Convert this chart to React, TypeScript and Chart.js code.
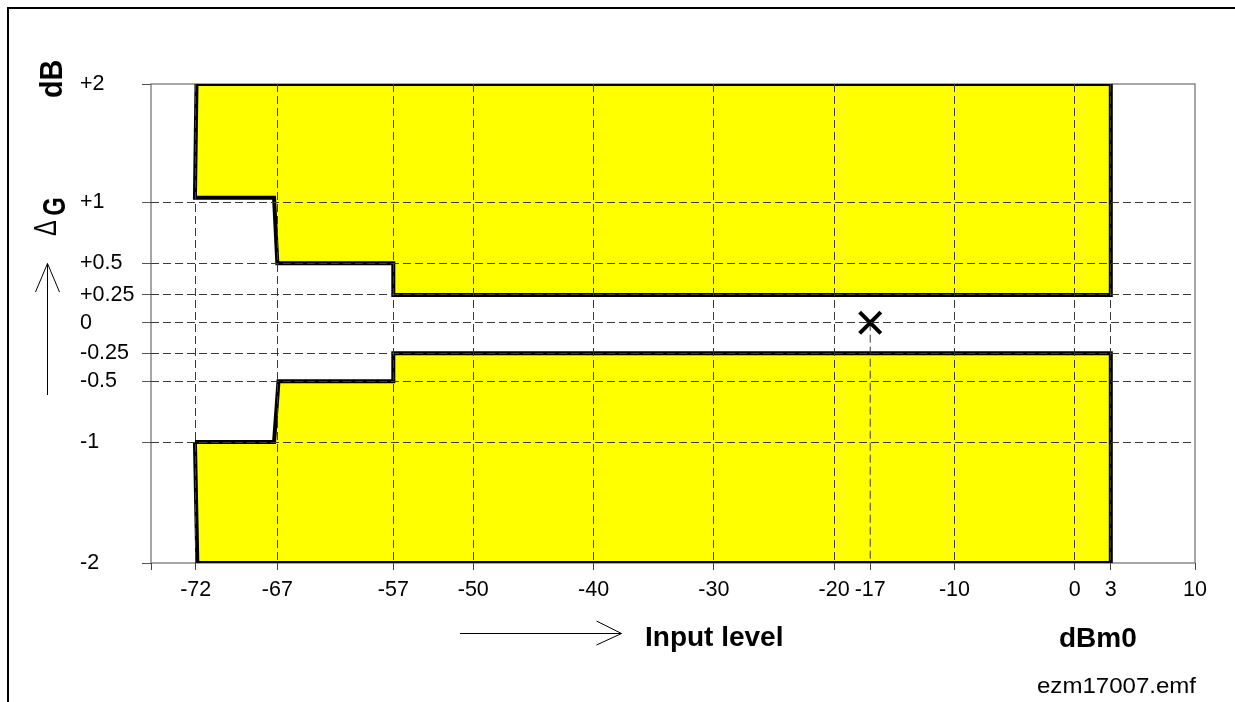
import React, { useEffect, useRef } from 'react';
import { Chart, registerables, LinearScale } from 'chart.js';

Chart.register(...registerables);

// ---------------- data ----------------
const levelTicks = [-75, -72, -67, -57, -50, -40, -30, -20, -17, -10, 0, 3, 10];
const levelTickLabels = ['', '-72', '-67', '-57', '-50', '-40', '-30', '-20', '-17', '-10', '0', '3', '10'];
const gainTicks = [-2, -1, -0.5, -0.25, 0, 0.25, 0.5, 1, 2];
const gainTickLabels = ['-2', '-1', '-0.5', '-0.25', '0', '+0.25', '+0.5', '+1', '+2'];

// tolerance mask (input level in dBm0, gain deviation in dB)
const upperMaskLevel = [-71.95, 3, 3, -57, -57, -67.0, -67.2, -72.05, -71.95];
const upperMaskGain = [2, 2, 0.25, 0.25, 0.5, 0.5, 1.04, 1.04, 2];
const lowerMaskLevel = [-72.05, -67.2, -66.9, -57, -57, 3, 3, -71.9, -72.05];
const lowerMaskGain = [-1, -1, -0.5, -0.5, -0.25, -0.25, -2, -2, -1];

// reference test point
const testPointLevel = [-17];
const testPointGain = [0];

// axis layout (non-uniform drawing scale of the original figure)
const levelAxisKnots = [-75, -72, -67, -57, -50, 10];
const levelAxisKnotPos = [0, 0.0428, 0.121, 0.2321, 0.3087, 1];
const gainAxisKnots = [-2, -1, -0.5, -0.25, 0, 0.25, 0.5, 1, 2];
const gainAxisKnotPos = [0, 0.2526, 0.3793, 0.4378, 0.5017, 0.5595, 0.6257, 0.7526, 1];

const FAMILY = '"Liberation Sans", Arial, Helvetica, sans-serif';

function interp(v: number, xs: number[], ys: number[]) {
  const n = xs.length;
  if (v <= xs[0]) return ys[0] + ((v - xs[0]) * (ys[1] - ys[0])) / (xs[1] - xs[0]);
  for (let i = 1; i < n; i++) {
    if (v <= xs[i]) return ys[i - 1] + ((v - xs[i - 1]) * (ys[i] - ys[i - 1])) / (xs[i] - xs[i - 1]);
  }
  return ys[n - 1] + ((v - xs[n - 1]) * (ys[n - 1] - ys[n - 2])) / (xs[n - 1] - xs[n - 2]);
}

function makeKnotScale(scaleId: string, knots: number[], pos: number[]) {
  class KnotScale extends LinearScale {
    static id = scaleId;
    static defaults = {};
    getPixelForValue(value: number) {
      return this.getPixelForDecimal(interp(value, knots, pos));
    }
    getValueForPixel(pixel: number) {
      return interp(this.getDecimalForPixel(pixel), pos, knots);
    }
  }
  return KnotScale;
}

Chart.register(
  makeKnotScale('levelScale', levelAxisKnots, levelAxisKnotPos) as any,
  makeKnotScale('gainScale', gainAxisKnots, gainAxisKnotPos) as any
);

function drawFitted(
  ctx: CanvasRenderingContext2D,
  text: string,
  font: string,
  l: number,
  t: number,
  r: number,
  b: number,
  rotated: boolean
) {
  ctx.save();
  ctx.font = font;
  ctx.textAlign = 'left';
  ctx.textBaseline = 'alphabetic';
  const m = ctx.measureText(text);
  const inkW = m.actualBoundingBoxLeft + m.actualBoundingBoxRight;
  const inkH = m.actualBoundingBoxAscent + m.actualBoundingBoxDescent;
  if (!rotated) {
    ctx.translate(l, b);
    ctx.scale((r - l) / inkW, (b - t) / inkH);
  } else {
    ctx.translate(r, b);
    ctx.rotate(-Math.PI / 2);
    ctx.scale((b - t) / inkW, (r - l) / inkH);
  }
  ctx.fillText(text, m.actualBoundingBoxLeft, -m.actualBoundingBoxDescent);
  ctx.restore();
}

const figurePlugin = {
  id: 'figureDecorations',
  beforeDatasetsDraw(chart: any) {
    // plot frame (grey box around the chart area)
    const { ctx, chartArea: a } = chart;
    ctx.save();
    ctx.setLineDash([]);
    ctx.strokeStyle = '#777';
    ctx.lineWidth = 1.3;
    ctx.strokeRect(a.left, a.top, a.right - a.left, a.bottom - a.top);
    ctx.restore();
  },
  afterDraw(chart: any) {
    const { ctx } = chart;
    ctx.save();
    ctx.setLineDash([]);
    ctx.strokeStyle = '#000';
    // arrows
    ctx.lineWidth = 1;
    ctx.beginPath();
    ctx.moveTo(460, 633.5);
    ctx.lineTo(621.5, 633.5);
    ctx.moveTo(596.5, 621);
    ctx.lineTo(621.5, 633.5);
    ctx.lineTo(596.5, 645);
    ctx.moveTo(47.5, 395);
    ctx.lineTo(47.5, 263.5);
    ctx.moveTo(35.5, 292);
    ctx.lineTo(47.5, 263.5);
    ctx.lineTo(59.5, 292);
    ctx.stroke();

    // texts
    ctx.fillStyle = '#000';
    ctx.textAlign = 'left';
    ctx.textBaseline = 'alphabetic';
    ctx.font = `bold 28px ${FAMILY}`;
    ctx.fillText('Input level', 645, 646);
    ctx.fillText('dBm0', 1059, 646.5);
    drawFitted(ctx, 'ezm17007.emf', `22px ${FAMILY}`, 1037, 677, 1197, 693, false);
    drawFitted(ctx, 'dB', `bold 28px ${FAMILY}`, 40, 61, 62, 97, true);
    drawFitted(ctx, 'G', `bold 28px ${FAMILY}`, 44, 198, 65, 215, true);
    drawFitted(ctx, 'Δ', `22px ${FAMILY}`, 35, 220, 56, 236, true);
    ctx.restore();
  },
};

function toPoints(xs: number[], ys: number[]) {
  return xs.map((x, i) => ({ x, y: ys[i] }));
}

export default function App() {
  const canvasRef = useRef<HTMLCanvasElement | null>(null);

  useEffect(() => {
    if (!canvasRef.current) return;
    const lastLevel = levelTicks[levelTicks.length - 1];
    const chart = new Chart(canvasRef.current, {
      type: 'line',
      data: {
        datasets: [
          {
            label: 'Test point',
            data: toPoints(testPointLevel, testPointGain),
            showLine: false,
            pointStyle: 'crossRot',
            pointRadius: 15,
            pointBorderWidth: 4,
            pointBorderColor: '#000',
            pointBackgroundColor: '#000',
          },
          {
            label: 'Test point level',
            data: [
              { x: testPointLevel[0], y: testPointGain[0] },
              { x: testPointLevel[0], y: gainTicks[0] },
            ],
            borderColor: '#3a3a3a',
            borderWidth: 1,
            borderDash: [8, 4],
            pointRadius: 0,
            fill: false,
          },
          {
            label: 'Upper limit',
            data: toPoints(upperMaskLevel, upperMaskGain),
            borderColor: '#000',
            borderWidth: 4,
            backgroundColor: '#ffff00',
            fill: 'shape',
            pointRadius: 0,
            tension: 0,
            borderJoinStyle: 'miter',
          },
          {
            label: 'Lower limit',
            data: toPoints(lowerMaskLevel, lowerMaskGain),
            borderColor: '#000',
            borderWidth: 4,
            backgroundColor: '#ffff00',
            fill: 'shape',
            pointRadius: 0,
            tension: 0,
            borderJoinStyle: 'miter',
          },
        ],
      } as any,
      options: {
        animation: false,
        responsive: true,
        maintainAspectRatio: false,
        events: [],
        layout: { padding: { left: 80, right: 40, top: 84, bottom: 99 } },
        plugins: {
          legend: { display: false },
          tooltip: { enabled: false },
        },
        scales: {
          x: {
            type: 'levelScale',
            position: 'bottom',
            min: levelTicks[0],
            max: lastLevel,
            afterBuildTicks: (s: any) => {
              s.ticks = levelTicks.map((value) => ({ value }));
            },
            afterFit: (s: any) => {
              s.height = 40;
            },
            ticks: {
              callback: (_v: any, i: number) => levelTickLabels[i],
              autoSkip: false,
              maxRotation: 0,
              minRotation: 0,
              padding: 7,
              color: '#000',
              font: { family: FAMILY, size: 21.5 },
            },
            grid: {
              z: 1,
              color: (c: any) => {
                const v = c.tick && c.tick.value;
                return v === levelTicks[0] || v === lastLevel || v === testPointLevel[0]
                  ? 'rgba(0,0,0,0)'
                  : '#3a3a3a';
              },
              lineWidth: 1,
              tickLength: 7,
              tickColor: '#444',
              tickWidth: 1,
            },
            border: { display: false, color: '#777', width: 1.3, dash: [8, 4] },
          },
          y: {
            type: 'gainScale',
            position: 'left',
            min: gainTicks[0],
            max: gainTicks[gainTicks.length - 1],
            afterBuildTicks: (s: any) => {
              s.ticks = gainTicks.map((value) => ({ value }));
            },
            afterFit: (s: any) => {
              s.width = 71;
            },
            ticks: {
              callback: (_v: any, i: number) => gainTickLabels[i],
              autoSkip: false,
              crossAlign: 'far',
              padding: 4,
              color: '#000',
              font: { family: FAMILY, size: 21.5 },
            },
            grid: {
              z: 1,
              color: (c: any) =>
                c.index === 0 || c.index === gainTicks.length - 1 ? 'rgba(0,0,0,0)' : '#3a3a3a',
              lineWidth: 1,
              tickLength: 9,
              tickColor: '#555',
              tickWidth: 1,
            },
            border: { display: false, color: '#777', width: 1.3, dash: [8, 4] },
          },
        },
      } as any,
      plugins: [figurePlugin],
    });
    return () => chart.destroy();
  }, []);

  return (
    <div
      style={{
        position: 'fixed',
        left: 0,
        top: 0,
        width: 1235,
        height: 702,
        background: '#fff',
        overflow: 'hidden',
      }}
    >
      <div style={{ position: 'absolute', left: 0, top: 0, width: 1235, height: 702 }}>
        <canvas ref={canvasRef} />
      </div>
      <div
        style={{
          position: 'absolute',
          left: 7,
          top: 7,
          width: 1400,
          height: 900,
          borderLeft: '2px solid #000',
          borderTop: '2px solid #000',
          pointerEvents: 'none',
        }}
      />
    </div>
  );
}
